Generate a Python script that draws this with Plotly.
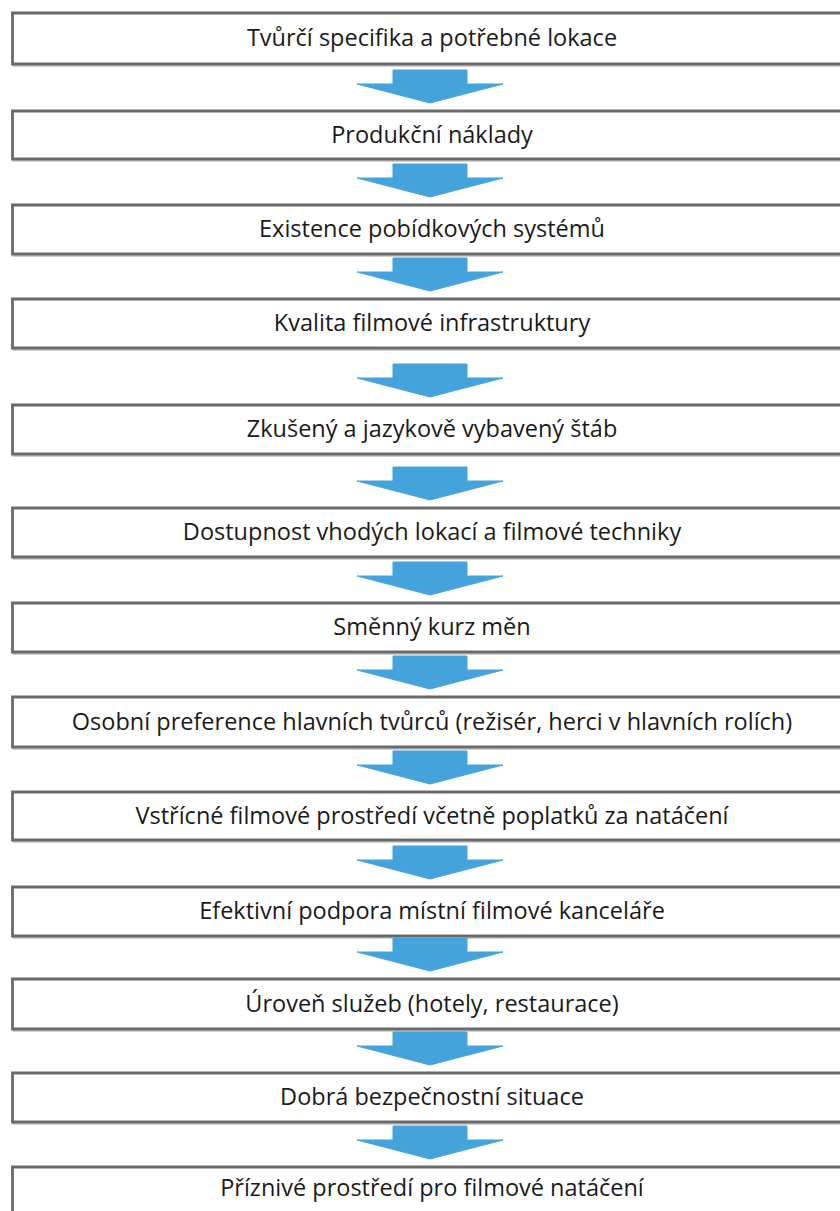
import plotly.graph_objects as go

# ---- data ----
steps = [
    "Tvůrčí specifika a potřebné lokace",
    "Produkční náklady",
    "Existence pobídkových systémů",
    "Kvalita filmové infrastruktury",
    "Zkušený a jazykově vybavený štáb",
    "Dostupnost vhodých lokací a filmové techniky",
    "Směnný kurz měn",
    "Osobní preference hlavních tvůrců (režisér, herci v hlavních rolích)",
    "Vstřícné filmové prostředí včetně poplatků za natáčení",
    "Efektivní podpora místní filmové kanceláře",
    "Úroveň služeb (hotely, restaurace)",
    "Dobrá bezpečnostní situace",
    "Příznivé prostředí pro filmové natáčení",
]

# ---- layout constants (pixels) ----
W, H = 840, 1211
BOX_TOP = [13, 111, 205, 299, 405, 508, 603, 697, 792, 887, 979, 1073, 1167]
BOX_BOT = [64, 159, 254, 348, 454, 557, 652, 747, 840, 936, 1029, 1122, 1218]
BOX_X0, BOX_X1 = 12.5, 860
TEXT_X = 432
TEXT_DY = 2
ARROW_CX = 430
SHAFT_HALF, HEAD_HALF = 37, 73
HEAD_H, SHAFT_H, TIP_GAP = 19, 14, 8
ARROW_COLOR = "#45A3DB"
BORDER = "#6a6a6a"

fig = go.Figure()
shapes = []
for i, label in enumerate(steps):
    # soft shadow
    shapes.append(dict(type="rect", xref="x", yref="y",
                       x0=BOX_X0 + 1.5, x1=BOX_X1 + 1.5,
                       y0=BOX_TOP[i] + 1.5, y1=BOX_BOT[i] + 1.5,
                       line=dict(color="rgba(150,150,150,0.45)", width=3),
                       fillcolor="rgba(0,0,0,0)", layer="below"))
    shapes.append(dict(type="rect", xref="x", yref="y",
                       x0=BOX_X0, x1=BOX_X1, y0=BOX_TOP[i], y1=BOX_BOT[i],
                       line=dict(color=BORDER, width=2.8),
                       fillcolor="white", layer="below"))

text_y = [(t + b) / 2 + TEXT_DY for t, b in zip(BOX_TOP, BOX_BOT)]
text_y[-1] = 1190
fig.add_trace(go.Scatter(
    x=[TEXT_X] * len(steps), y=text_y,
    mode="text", text=steps,
    textfont=dict(family="Open Sans", size=23.5, color="#1a1a1a"),
    hoverinfo="skip", showlegend=False, cliponaxis=False))

# arrows between consecutive boxes
for i in range(len(steps) - 1):
    tip = BOX_TOP[i + 1] - TIP_GAP
    bar = tip - HEAD_H
    top = bar - SHAFT_H
    xs = [ARROW_CX - SHAFT_HALF, ARROW_CX + SHAFT_HALF, ARROW_CX + SHAFT_HALF,
          ARROW_CX + HEAD_HALF, ARROW_CX, ARROW_CX - HEAD_HALF,
          ARROW_CX - SHAFT_HALF, ARROW_CX - SHAFT_HALF]
    ys = [top, top, bar, bar, tip, bar, bar, top]
    fig.add_trace(go.Scatter(x=xs, y=ys, mode="lines", fill="toself",
                             fillcolor=ARROW_COLOR,
                             line=dict(color=ARROW_COLOR, width=1),
                             hoverinfo="skip", showlegend=False))

fig.update_layout(
    width=W, height=H, margin=dict(l=0, r=0, t=0, b=0),
    paper_bgcolor="white", plot_bgcolor="white",
    shapes=shapes,
    xaxis=dict(range=[0, W], visible=False, fixedrange=True),
    yaxis=dict(range=[H, 0], visible=False, fixedrange=True),
)

fig.write_html("out.html", config={"displayModeBar": False},
               post_script="document.body.style.margin='0';document.body.style.overflow='hidden';")
